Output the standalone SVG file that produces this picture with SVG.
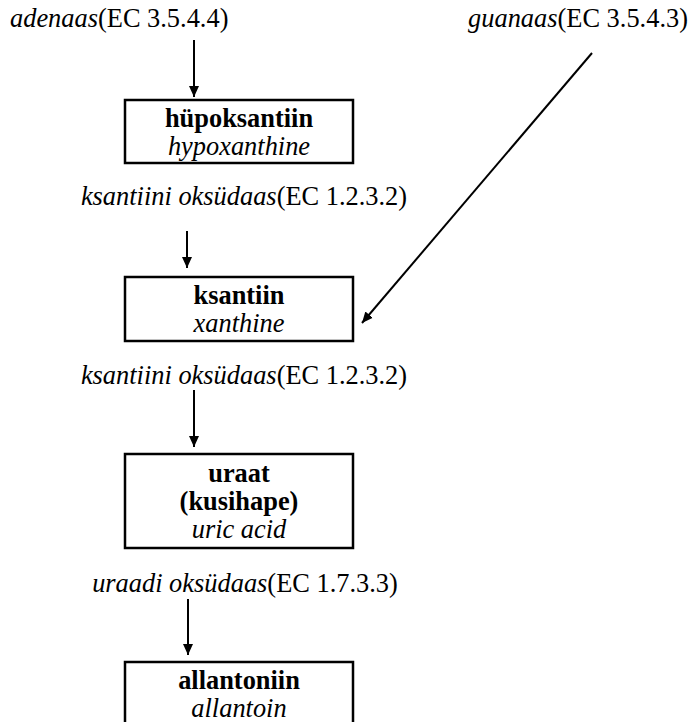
<svg xmlns="http://www.w3.org/2000/svg" width="691" height="722" viewBox="0 0 691 722">
<style>
text{font-family:'Liberation Serif','Times New Roman',Times,serif;font-size:26.4px;fill:#000}
.b{font-weight:bold}
.i{font-style:italic}
.box{fill:#fff;stroke:#000;stroke-width:2.5}
.c{stroke:#000;stroke-width:2;fill:none}
</style>
<defs>
<marker id="ah" markerUnits="userSpaceOnUse" markerWidth="12" markerHeight="12" viewBox="0 0 12 12" refX="11" refY="6" orient="auto">
<path d="M0,1 L11,6 L0,11 Z" fill="#000"/>
</marker>
</defs>
<g id="connectors">
<line class="c" x1="194" y1="40" x2="194" y2="97" marker-end="url(#ah)"/>
<line class="c" x1="187" y1="231" x2="187" y2="268" marker-end="url(#ah)"/>
<line class="c" x1="194" y1="390" x2="194" y2="447" marker-end="url(#ah)"/>
<line class="c" x1="188" y1="599" x2="188" y2="655" marker-end="url(#ah)"/>
<line class="c" x1="592" y1="53" x2="362" y2="323" marker-end="url(#ah)"/>
</g>
<g id="labels">
<text x="10" y="27"><tspan class="i">adenaas</tspan>(EC 3.5.4.4)</text>
<text x="688" y="27" text-anchor="end"><tspan class="i">guanaas</tspan>(EC 3.5.4.3)</text>
<text x="244" y="205" text-anchor="middle"><tspan class="i">ksantiini oksüdaas</tspan>(EC 1.2.3.2)</text>
<text x="244" y="384" text-anchor="middle"><tspan class="i">ksantiini oksüdaas</tspan>(EC 1.2.3.2)</text>
<text x="245" y="592" text-anchor="middle"><tspan class="i">uraadi oksüdaas</tspan>(EC 1.7.3.3)</text>
</g>
<g id="hypoxanthine">
<rect class="box" x="125" y="100" width="228" height="63"/>
<text class="b" x="239" y="127" text-anchor="middle">hüpoksantiin</text>
<text class="i" x="239" y="155" text-anchor="middle">hypoxanthine</text>
</g>
<g id="xanthine">
<rect class="box" x="125" y="277" width="228" height="64"/>
<text class="b" x="239" y="304" text-anchor="middle">ksantiin</text>
<text class="i" x="239" y="332" text-anchor="middle">xanthine</text>
</g>
<g id="uric-acid">
<rect class="box" x="125" y="454" width="228" height="94"/>
<text class="b" x="239" y="482" text-anchor="middle">uraat</text>
<text class="b" x="239" y="510" text-anchor="middle">(kusihape)</text>
<text class="i" x="239" y="538" text-anchor="middle">uric acid</text>
</g>
<g id="allantoin">
<rect class="box" x="125" y="662" width="228" height="80"/>
<text class="b" x="239" y="689" text-anchor="middle">allantoniin</text>
<text class="i" x="239" y="717" text-anchor="middle">allantoin</text>
</g>
</svg>
